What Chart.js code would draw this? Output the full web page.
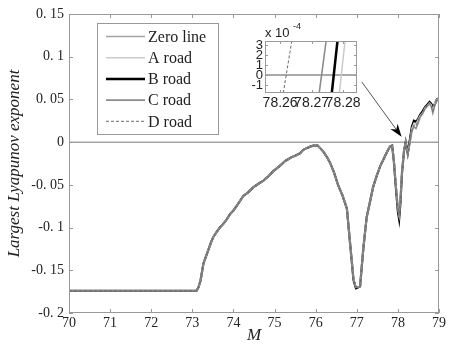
<!DOCTYPE html>
<html>
<head>
<meta charset="utf-8">
<script src="https://cdn.jsdelivr.net/npm/chart.js@4/dist/chart.umd.min.js"></script>
<style>
  body { margin: 0; background: #fff; }
  #wrap { position: relative; width: 453px; height: 346px; }
  #inset { position: absolute; left: 240px; top: 18px; }
</style>
</head>
<body>
<div id="wrap">
  <canvas id="myChart" width="453" height="346"></canvas>
  <canvas id="inset" width="125" height="92"></canvas>
</div>
<script>
// main curve, values
const mValues = [70, 73.1, 73.15, 73.2, 73.27, 73.33, 73.39, 73.45, 73.51, 73.58,
  73.67, 73.75, 73.84, 73.92, 74.0, 74.1, 74.24, 74.35, 74.48, 74.6,
  74.73, 74.85, 74.97, 75.1, 75.26, 75.4, 75.5, 75.62, 75.7, 75.78,
  75.88, 75.99, 76.05, 76.11, 76.2, 76.28, 76.35, 76.45, 76.55, 76.65,
  76.76, 76.84, 76.92, 76.98, 77.08, 77.16, 77.24, 77.32, 77.4, 77.48,
  77.57, 77.63, 77.69, 77.75, 77.81, 77.86, 77.9, 77.95, 78.0, 78.03,
  78.06, 78.1, 78.15, 78.19, 78.24, 78.28, 78.34, 78.39, 78.44, 78.49,
  78.54, 78.6, 78.66, 78.72, 78.77, 78.81, 78.85, 78.9, 78.95, 79.0];

const roadA = [-0.174, -0.174, -0.17, -0.162, -0.142, -0.134, -0.126, -0.118, -0.111, -0.106,
  -0.1, -0.096, -0.09, -0.084, -0.08, -0.073, -0.063, -0.059, -0.053, -0.049,
  -0.045, -0.04, -0.034, -0.029, -0.022, -0.018, -0.016, -0.013, -0.009, -0.007,
  -0.005, -0.0035, -0.004, -0.007, -0.012, -0.018, -0.024, -0.036, -0.051, -0.062,
  -0.078, -0.12, -0.16, -0.17, -0.169, -0.124, -0.088, -0.07, -0.052, -0.04,
  -0.028, -0.022, -0.016, -0.01, -0.005, -0.004, -0.02, -0.05, -0.078, -0.086,
  -0.07, -0.035, -0.01, 0.0, -0.014, -0.002, 0.016, 0.022, 0.021, 0.026,
  0.031, 0.034, 0.04, 0.043, 0.046, 0.044, 0.037, 0.046, 0.05, 0.052];

const roadB = [-0.174, -0.174, -0.17, -0.162, -0.142, -0.134, -0.126, -0.118, -0.111, -0.106,
  -0.1, -0.096, -0.09, -0.084, -0.08, -0.073, -0.063, -0.059, -0.053, -0.049,
  -0.045, -0.04, -0.034, -0.029, -0.022, -0.018, -0.016, -0.013, -0.009, -0.007,
  -0.005, -0.0035, -0.004, -0.007, -0.012, -0.018, -0.024, -0.036, -0.051, -0.062,
  -0.078, -0.12, -0.161, -0.171, -0.169, -0.124, -0.088, -0.07, -0.052, -0.04,
  -0.028, -0.022, -0.016, -0.01, -0.005, -0.004, -0.021, -0.052, -0.081, -0.09,
  -0.072, -0.036, -0.01, 0.0, -0.013, -0.001, 0.018, 0.025, 0.024, 0.027,
  0.032, 0.036, 0.041, 0.044, 0.047, 0.045, 0.041, 0.045, 0.05, 0.051];

const roadC = [-0.174, -0.174, -0.17, -0.162, -0.142, -0.134, -0.126, -0.118, -0.111, -0.106,
  -0.1, -0.096, -0.09, -0.084, -0.08, -0.073, -0.063, -0.059, -0.053, -0.049,
  -0.045, -0.04, -0.034, -0.029, -0.022, -0.018, -0.016, -0.013, -0.009, -0.007,
  -0.005, -0.0035, -0.004, -0.007, -0.012, -0.018, -0.024, -0.036, -0.051, -0.062,
  -0.078, -0.12, -0.16, -0.17, -0.169, -0.124, -0.088, -0.07, -0.052, -0.04,
  -0.028, -0.022, -0.016, -0.01, -0.005, -0.004, -0.02, -0.05, -0.077, -0.085,
  -0.069, -0.034, -0.01, 0.0, -0.015, -0.004, 0.013, 0.018, 0.016, 0.022,
  0.029, 0.033, 0.039, 0.042, 0.045, 0.042, 0.034, 0.043, 0.049, 0.053];

const roadD = [-0.174, -0.174, -0.17, -0.162, -0.142, -0.134, -0.126, -0.118, -0.111, -0.106,
  -0.1, -0.096, -0.09, -0.084, -0.08, -0.073, -0.063, -0.059, -0.053, -0.049,
  -0.045, -0.04, -0.034, -0.029, -0.022, -0.018, -0.016, -0.013, -0.009, -0.007,
  -0.005, -0.0035, -0.004, -0.007, -0.012, -0.018, -0.024, -0.036, -0.051, -0.062,
  -0.078, -0.12, -0.16, -0.17, -0.169, -0.124, -0.088, -0.07, -0.052, -0.04,
  -0.028, -0.022, -0.016, -0.01, -0.005, -0.004, -0.02, -0.05, -0.078, -0.086,
  -0.07, -0.035, -0.01, 0.0, -0.016, -0.003, 0.015, 0.02, 0.019, 0.025,
  0.03, 0.034, 0.04, 0.043, 0.046, 0.043, 0.036, 0.045, 0.05, 0.052];

const zeroX = [70, 79];
const zeroY = [0, 0];

const roadLabels = ["Zero line", "A road", "B road", "C road", "D road"];
const xTicks = [70, 71, 72, 73, 74, 75, 76, 77, 78, 79];

// inset (zoom near M = 78.27, y in units of 1e-4)
const insetY = [-1.8, 3.4];
const insetA = [78.2788, 78.2806];
const insetB = [78.2764, 78.2782];
const insetC = [78.2724, 78.2746];
const insetD = [78.2610, 78.2637];
const insetZeroX = [78.2552, 78.2844];
const insetXTicks = [78.26, 78.27, 78.28];
const insetYTicks = [-1, 0, 1, 2, 3];

// arrow pointing from the inset to the curve
const arrowFrom = [77.12, 0.0706];
const arrowTo = [78.09, 0.0062];

function pts(xs, ys) {
    return xs.map((x, i) => ({ x: x, y: ys[i] }));
}

const SERIF = '"Liberation Serif", "Times New Roman", serif';
const SANS = '"Liberation Sans", Arial, sans-serif';
Chart.defaults.font.family = SERIF;
Chart.defaults.color = "#222";

const styles = [
    { borderColor: "#a4a4a4", borderWidth: 1.5, order: 4 },
    { borderColor: "#cbcbcb", borderWidth: 1.5, order: 2 },
    { borderColor: "#000000", borderWidth: 2.2, order: 3 },
    { borderColor: "#8c8c8c", borderWidth: 1.6, order: 1 },
    { borderColor: "#6a6a6a", borderWidth: 1, borderDash: [3, 2], order: 0 },
];

//frame with inward ticks, like matlab
const frame = {
    id: "frame",
    beforeDraw(chart) {
        const a = chart.chartArea, c = chart.ctx;
        c.save();
        c.fillStyle = "#fff";
        c.fillRect(a.left, a.top, a.right - a.left, a.bottom - a.top);
        c.restore();
    },
    afterDraw(chart, args, opts) {
        const a = chart.chartArea, c = chart.ctx, len = opts.tick;
        const sx = chart.scales.x, sy = chart.scales.y;
        c.save();
        c.strokeStyle = opts.color;
        c.lineWidth = 1;
        c.beginPath();
        sx.ticks.forEach((t) => {
            const p = Math.round(sx.getPixelForValue(t.value)) + 0.5;
            c.moveTo(p, a.bottom); c.lineTo(p, a.bottom - len);
            c.moveTo(p, a.top); c.lineTo(p, a.top + len);
        });
        sy.ticks.forEach((t) => {
            const p = Math.round(sy.getPixelForValue(t.value)) + 0.5;
            c.moveTo(a.left, p); c.lineTo(a.left + len, p);
            c.moveTo(a.right, p); c.lineTo(a.right - len, p);
        });
        c.stroke();
        c.strokeRect(Math.round(a.left) + 0.5, Math.round(a.top) + 0.5,
            Math.round(a.right - a.left) - 1, Math.round(a.bottom - a.top) - 1);
        c.restore();
    },
};

const boxLegend = {
    id: "boxLegend",
    afterDraw(chart) {
        const c = chart.ctx, a = chart.chartArea;
        const left = a.left + 28, top = a.top + 9;
        c.save();
        c.fillStyle = "#fff";
        c.strokeStyle = "#999";
        c.lineWidth = 1;
        c.fillRect(left, top, 121, 111);
        c.strokeRect(left + 0.5, top + 0.5, 121, 111);
        chart.data.datasets.forEach((ds, i) => {
            const y = top + 13.5 + i * 21.2;
            c.strokeStyle = ds.borderColor;
            c.lineWidth = i === 2 ? 2.5 : ds.borderWidth;
            c.setLineDash(ds.borderDash || []);
            c.beginPath();
            c.moveTo(left + 9, y);
            c.lineTo(left + 48, y);
            c.stroke();
            c.setLineDash([]);
            c.fillStyle = "#222";
            c.font = "16px " + SERIF;
            c.textBaseline = "middle";
            c.fillText(ds.label, left + 51, y + 1);
        });
        c.restore();
    },
};

const arrow = {
    id: "arrow",
    afterDatasetsDraw(chart) {
        const c = chart.ctx, sx = chart.scales.x, sy = chart.scales.y;
        const x0 = sx.getPixelForValue(arrowFrom[0]), y0 = sy.getPixelForValue(arrowFrom[1]);
        const x1 = sx.getPixelForValue(arrowTo[0]), y1 = sy.getPixelForValue(arrowTo[1]);
        const ang = Math.atan2(y1 - y0, x1 - x0);
        c.save();
        c.strokeStyle = "#555";
        c.lineWidth = 1;
        c.beginPath();
        c.moveTo(x0, y0);
        c.lineTo(x1 - 6 * Math.cos(ang), y1 - 6 * Math.sin(ang));
        c.stroke();
        c.translate(x1, y1);
        c.rotate(ang);
        c.fillStyle = "#000";
        c.beginPath();
        c.moveTo(0, 0);
        c.lineTo(-13, -4.5);
        c.lineTo(-9, 0);
        c.lineTo(-13, 4.5);
        c.closePath();
        c.fill();
        c.restore();
    },
};

const datasets = [
    pts(zeroX, zeroY), pts(mValues, roadA), pts(mValues, roadB),
    pts(mValues, roadC), pts(mValues, roadD),
].map((d, i) => Object.assign({ label: roadLabels[i], data: d, pointRadius: 0, tension: 0 }, styles[i]));

const config = {
    type: "line",
    data: { datasets: datasets },
    options: {
        responsive: false,
        animation: false,
        layout: { padding: { top: 14, right: 14 } },
        scales: {
            x: {
                type: "linear",
                min: 70,
                max: 79,
                afterBuildTicks: (s) => { s.ticks = xTicks.map((v) => ({ value: v })); },
                ticks: { font: { size: 14, family: SERIF }, padding: 2, maxRotation: 0 },
                grid: { drawOnChartArea: false, drawTicks: false },
                border: { display: false },
                title: { display: true, text: "M", font: { size: 17, style: "italic", family: SERIF }, padding: 0 },
                afterFit: (s) => { s.height = 33; },
            },
            y: {
                min: -0.2,
                max: 0.15,
                ticks: {
                    stepSize: 0.05,
                    font: { size: 14, family: SERIF },
                    padding: 5,
                    callback: (v) => String(Math.round(v * 100) / 100).replace(".", ". "),
                },
                grid: { drawOnChartArea: false, drawTicks: false },
                border: { display: false },
                title: {
                    display: true,
                    text: "Largest Lyapunov exponent",
                    font: { size: 17, style: "italic", family: SERIF },
                    padding: { top: 4, bottom: 0 },
                },
                afterFit: (s) => { s.width = 69; },
            },
        },
        plugins: {
            legend: { display: false },
            tooltip: { enabled: false },
            frame: { color: "#999", tick: 4 },
        },
    },
    plugins: [frame, arrow, boxLegend],
};
const myChart = new Chart(document.getElementById("myChart"), config);

// inset chart
const insetSets = [
    pts(insetZeroX, [0, 0]), pts(insetA, insetY), pts(insetB, insetY),
    pts(insetC, insetY), pts(insetD, insetY),
].map((d, i) => Object.assign({ label: roadLabels[i], data: d, pointRadius: 0, tension: 0 }, styles[i]));
insetSets[0].borderColor = "#555";
insetSets[0].borderWidth = 1;
insetSets[2].borderWidth = 2.5;

const insetScale = {
    id: "insetScale",
    afterDraw(chart) {
        const c = chart.ctx, a = chart.chartArea;
        c.save();
        c.fillStyle = "#222";
        c.font = "13px " + SANS;
        c.textBaseline = "alphabetic";
        c.fillText("x 10", a.left, a.top - 4);
        c.font = "9px " + SANS;
        c.fillText("-4", a.left + 28, a.top - 12);
        c.restore();
    },
};

const insetChart = new Chart(document.getElementById("inset"), {
    type: "line",
    data: { datasets: insetSets },
    options: {
        responsive: false,
        animation: false,
        layout: { padding: { top: 23, right: 8 } },
        scales: {
            x: {
                type: "linear",
                min: 78.2552,
                max: 78.2844,
                afterBuildTicks: (s) => { s.ticks = insetXTicks.map((v) => ({ value: v })); },
                ticks: {
                    autoSkip: false, maxRotation: 0, minRotation: 0, padding: 2,
                    font: { size: 14, family: SANS },
                    color: "#222",
                    callback: (v) => v.toFixed(2),
                },
                grid: { drawOnChartArea: false, drawTicks: false },
                border: { display: false },
                afterFit: (s) => { s.height = 17; },
            },
            y: {
                min: -1.8,
                max: 3.4,
                afterBuildTicks: (s) => { s.ticks = insetYTicks.map((v) => ({ value: v })); },
                ticks: {
                    autoSkip: false, padding: 2,
                    font: { size: 13, family: SANS },
                    color: "#222",
                },
                grid: { drawOnChartArea: false, drawTicks: false },
                border: { display: false },
                afterFit: (s) => { s.width = 25; },
            },
        },
        plugins: {
            legend: { display: false },
            tooltip: { enabled: false },
            frame: { color: "#999", tick: 3 },
        },
    },
    plugins: [frame, insetScale],
});
</script>
</body>
</html>
